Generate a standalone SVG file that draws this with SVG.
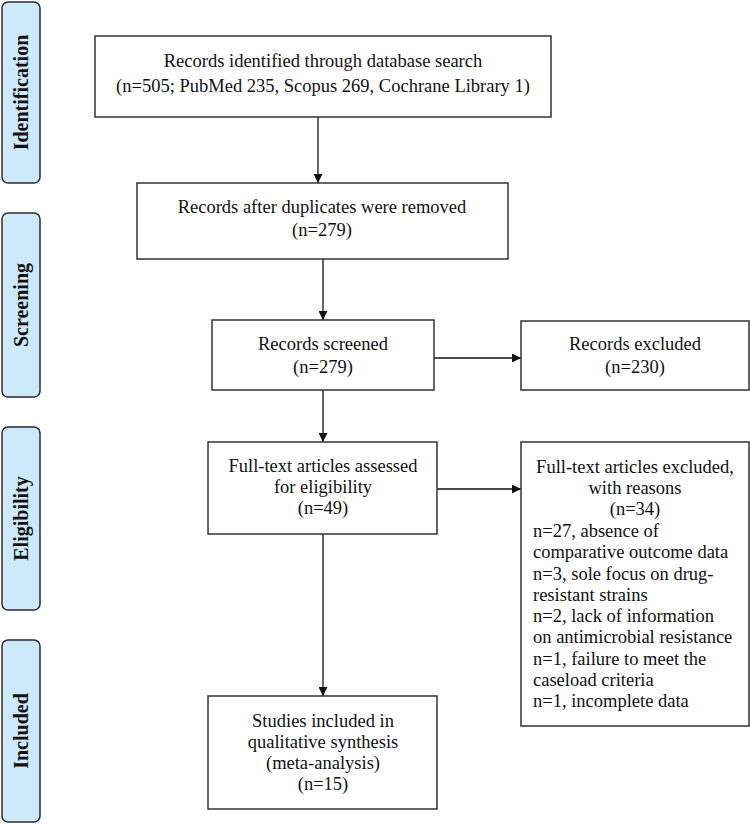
<svg xmlns="http://www.w3.org/2000/svg" width="750" height="824" viewBox="0 0 750 824">
<style>
.side{fill:#cdeafc;stroke:#2b2b2b;stroke-width:1.5}
.box{fill:#fff;stroke:#333;stroke-width:1.5}
.t{font-family:"Liberation Serif","Times New Roman",serif;font-size:18.5px;fill:#111}
.c{text-anchor:middle}
.lab{font-family:"Liberation Serif","Times New Roman",serif;font-size:20px;font-weight:bold;fill:#111;text-anchor:middle}
.ln{stroke:#111;stroke-width:1.3;fill:none}
</style>
<defs>
<marker id="ah" viewBox="0 0 10 10" refX="10" refY="5" markerWidth="9" markerHeight="9" markerUnits="userSpaceOnUse" orient="auto">
<path d="M0,0 L10,5 L0,10 z" fill="#111"/>
</marker>
</defs>
<rect width="750" height="824" fill="#fff"/>

<g id="phase-identification">
<rect class="side" x="2" y="2" width="38" height="181" rx="6"/>
<text class="lab" transform="translate(28,92.5) rotate(-90)">Identification</text>
</g>
<g id="phase-screening">
<rect class="side" x="2" y="213" width="38" height="184" rx="6"/>
<text class="lab" transform="translate(28,305) rotate(-90)">Screening</text>
</g>
<g id="phase-eligibility">
<rect class="side" x="2" y="427" width="38" height="183" rx="6"/>
<text class="lab" transform="translate(28,518.5) rotate(-90)">Eligibility</text>
</g>
<g id="phase-included">
<rect class="side" x="2" y="640" width="38" height="182" rx="6"/>
<text class="lab" transform="translate(28,731) rotate(-90)">Included</text>
</g>

<g id="connectors">
<line class="ln" x1="318" y1="117" x2="318" y2="183" marker-end="url(#ah)"/>
<line class="ln" x1="323" y1="259" x2="323" y2="320" marker-end="url(#ah)"/>
<line class="ln" x1="434" y1="358" x2="521" y2="358" marker-end="url(#ah)"/>
<line class="ln" x1="323" y1="390" x2="323" y2="442" marker-end="url(#ah)"/>
<line class="ln" x1="437" y1="489" x2="521" y2="489" marker-end="url(#ah)"/>
<line class="ln" x1="323" y1="534" x2="323" y2="696" marker-end="url(#ah)"/>
</g>

<g id="identified">
<rect class="box" x="95" y="36" width="456" height="81"/>
<text class="t c" x="323" y="67">Records identified through database search</text>
<text class="t c" x="323" y="92">(n=505; PubMed 235, Scopus 269, Cochrane Library 1)</text>
</g>
<g id="deduplicated">
<rect class="box" x="137" y="183" width="371" height="76"/>
<text class="t c" x="322" y="213">Records after duplicates were removed</text>
<text class="t c" x="322" y="236">(n=279)</text>
</g>
<g id="screened">
<rect class="box" x="212" y="320" width="222" height="70"/>
<text class="t c" x="323" y="350">Records screened</text>
<text class="t c" x="323" y="373">(n=279)</text>
</g>
<g id="excluded">
<rect class="box" x="521" y="321" width="228" height="69"/>
<text class="t c" x="635" y="350">Records excluded</text>
<text class="t c" x="635" y="373">(n=230)</text>
</g>
<g id="assessed">
<rect class="box" x="208" y="442" width="229" height="92"/>
<text class="t c" x="323" y="472">Full-text articles assessed</text>
<text class="t c" x="323" y="493">for eligibility</text>
<text class="t c" x="323" y="514">(n=49)</text>
</g>
<g id="fulltext-excluded">
<rect class="box" x="521" y="442" width="228" height="284"/>
<text class="t c" x="635" y="473">Full-text articles excluded,</text>
<text class="t c" x="635" y="494">with reasons</text>
<text class="t c" x="635" y="515">(n=34)</text>
<text class="t" x="533" y="537">n=27, absence of</text>
<text class="t" x="533" y="558">comparative outcome data</text>
<text class="t" x="533" y="580">n=3, sole focus on drug-</text>
<text class="t" x="533" y="601">resistant strains</text>
<text class="t" x="533" y="622">n=2, lack of information</text>
<text class="t" x="533" y="643">on antimicrobial resistance</text>
<text class="t" x="533" y="665">n=1, failure to meet the</text>
<text class="t" x="533" y="686">caseload criteria</text>
<text class="t" x="533" y="707">n=1, incomplete data</text>
</g>
<g id="included">
<rect class="box" x="208" y="696" width="229" height="113"/>
<text class="t c" x="323" y="727">Studies included in</text>
<text class="t c" x="323" y="748">qualitative synthesis</text>
<text class="t c" x="323" y="769">(meta-analysis)</text>
<text class="t c" x="323" y="790">(n=15)</text>
</g>
</svg>
